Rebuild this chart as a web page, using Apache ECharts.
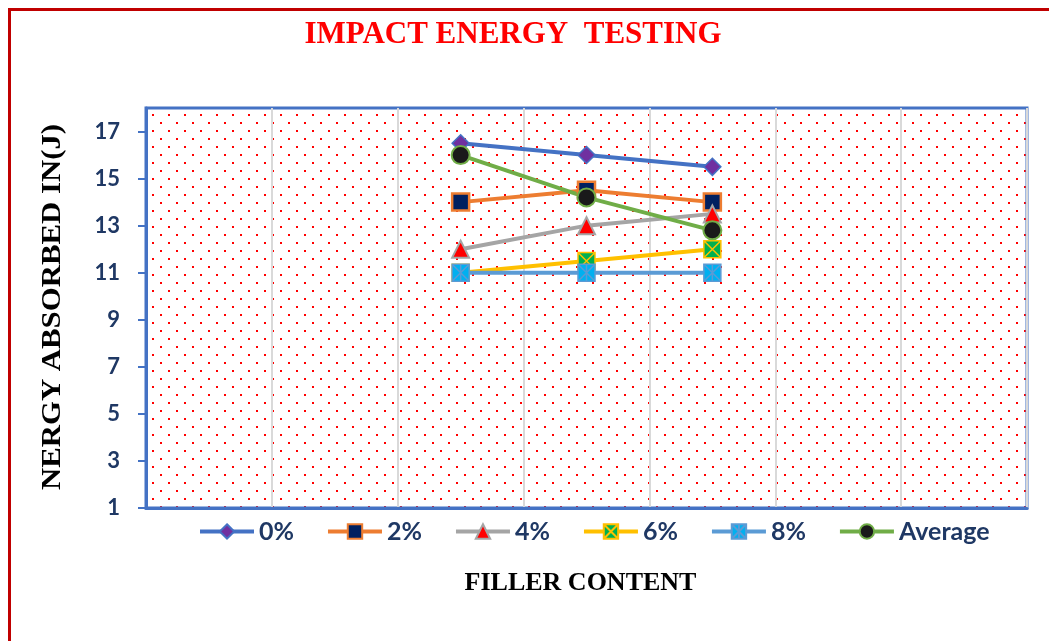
<!DOCTYPE html>
<html>
<head>
<meta charset="utf-8">
<script src="https://cdn.jsdelivr.net/npm/echarts@6/dist/echarts.min.js"></script>
<style>
  html, body { margin: 0; padding: 0; background: #fff; }
  #chart { width: 1049px; height: 641px; }
</style>
</head>
<body>
<div id="chart"></div>
<script>
// Category slots along the filler-content axis (labels are not shown)
const categories = ['1', '2', '3', '4', '5', '6', '7'];

// Absorbed impact energy (J) per series; empty slots are null
const s0 = [null, null, 16.5, 16.0, 15.5, null, null];
const s2 = [null, null, 14.0, 14.5, 14.0, null, null];
const s4 = [null, null, 12.0, 13.0, 13.5, null, null];
const s6 = [null, null, 11.0, 11.5, 12.0, null, null];
const s8 = [null, null, 11.0, 11.0, 11.0, null, null];
const sAvg = [null, null, 16.0, 14.2, 12.8, null, null];

const seriesNames = ['0%', '2%', '4%', '6%', '8%', 'Average'];

// Value-axis range and tick step
const yMin = 1;
const yMax = 18;
const yStep = 2;

// Dotted plot-area fill: small red dots on a staggered 16px lattice
function dotPattern() {
  const c = document.createElement('canvas');
  c.width = 16; c.height = 16;
  const g = c.getContext('2d');
  g.fillStyle = '#ffffff';
  g.fillRect(0, 0, 16, 16);
  g.fillStyle = '#ff0000';
  g.fillRect(8, 2, 2, 2);
  g.fillRect(0, 10, 2, 2);
  return c;
}

// Marker shapes
const squareX = 'path://M0,0L10,0L10,10L0,10Z M0,0L10,10 M10,0L0,10';
const squareStar = 'path://M0,0L10,0L10,10L0,10Z M5,0L5,10 M0,0L10,10 M10,0L0,10';

function lineSeries(name, data, color, symbol, size, fill, border, borderW) {
  return {
    name: name,
    type: 'line',
    data: data,
    connectNulls: false,
    symbol: symbol,
    symbolSize: size,
    showAllSymbol: true,
    lineStyle: { color: color, width: 4 },
    itemStyle: { color: fill, borderColor: border, borderWidth: borderW },
    emphasis: { disabled: true },
    z: 3
  };
}

const chart = echarts.init(document.getElementById('chart'), null, { renderer: 'canvas' });

const option = {
  animation: false,
  backgroundColor: '#ffffff',
  title: {
    text: 'IMPACT ENERGY  TESTING',
    left: 508,
    textAlign: 'center',
    top: 14,
    textStyle: {
      fontFamily: 'Liberation Serif',
      fontWeight: 'bold',
      fontSize: 31,
      color: '#ff0000'
    }
  },
  graphic: [
    {
      type: 'rect',
      shape: { x: 9.5, y: 9.5, width: 1200, height: 800 },
      style: { fill: 'none', stroke: '#c00000', lineWidth: 3 },
      z: -1
    },
    {
      // value-axis title, drawn vertically
      type: 'text',
      x: 53,
      y: 307,
      rotation: Math.PI / 2,
      scaleX: 1.1,
      style: {
        text: 'NERGY ABSORBED IN(J)',
        fontFamily: 'Liberation Serif',
        fontWeight: 'bold',
        fontSize: 28,
        fill: '#000000',
        align: 'center',
        verticalAlign: 'middle'
      }
    }
  ],
  legend: {
    data: seriesNames,
    left: 193,
    top: 514,
    itemWidth: 54,
    itemHeight: 18,
    itemGap: 32,
    lineStyle: { width: 4 },
    textStyle: {
      fontFamily: 'Lato',
      fontWeight: 'bold',
      fontSize: 25,
      color: '#1f3864',
      padding: [0, 0, 0, 0]
    }
  },
  grid: {
    left: 146,
    top: 108,
    right: 22,
    bottom: 133,
    show: true,
    backgroundColor: { image: dotPattern(), repeat: 'repeat' },
    borderColor: '#4472c4',
    borderWidth: 3
  },
  xAxis: {
    type: 'category',
    data: categories,
    boundaryGap: true,
    name: 'FILLER CONTENT',
    nameLocation: 'middle',
    nameGap: 62,
    nameTextStyle: {
      fontFamily: 'Liberation Serif',
      fontWeight: 'bold',
      fontSize: 26,
      color: '#000000',
      padding: [0, 12, 0, 0]
    },
    axisLine: { show: true, lineStyle: { color: '#4472c4', width: 3 } },
    axisTick: { show: false },
    axisLabel: { show: false },
    splitLine: { show: true, interval: 0, lineStyle: { color: '#d9d9d9', width: 2 } }
  },
  yAxis: {
    type: 'value',
    min: yMin,
    max: yMax,
    interval: yStep,
    axisLine: { show: true, lineStyle: { color: '#4472c4', width: 3 } },
    axisTick: { show: true, length: 8, lineStyle: { color: '#4472c4', width: 2 } },
    axisLabel: {
      margin: 26,
      showMaxLabel: false,
      fontFamily: 'Lato',
      fontWeight: 'bold',
      fontSize: 22,
      color: '#1f3864',
      formatter: function (v) { return v === yMax ? '' : String(v); }
    },
    splitLine: { show: false }
  },
  series: [
    lineSeries('0%', s0, '#4472c4', 'diamond', 17, '#7030a0', '#4472c4', 1.5),
    lineSeries('2%', s2, '#ed7d31', 'rect', 17, '#002060', '#ed7d31', 2.5),
    lineSeries('4%', s4, '#a5a5a5', 'triangle', 17, '#ff0000', '#a5a5a5', 2),
    lineSeries('6%', s6, '#ffc000', squareX, 17, '#00b050', '#ffc000', 1.5),
    lineSeries('8%', s8, '#5b9bd5', squareStar, 17, '#00b0f0', '#5b9bd5', 1.5),
    lineSeries('Average', sAvg, '#70ad47', 'circle', 18, '#1a1a1a', '#70ad47', 2)
  ]
};

chart.setOption(option);
</script>
</body>
</html>
